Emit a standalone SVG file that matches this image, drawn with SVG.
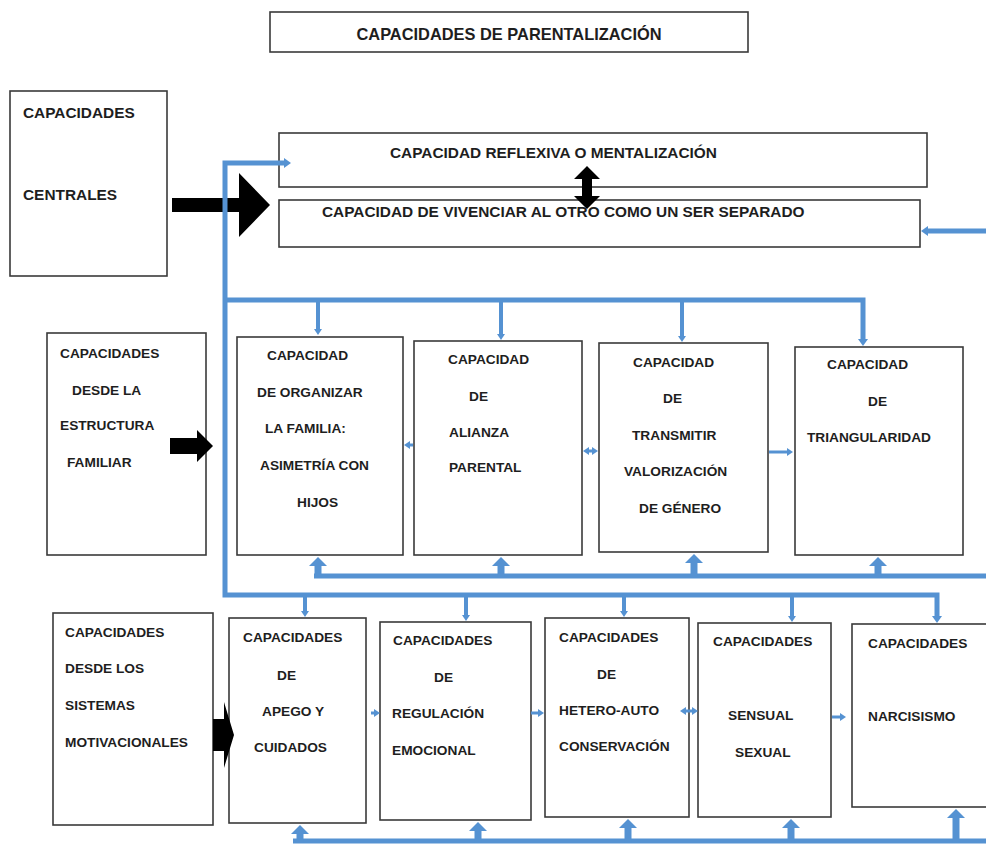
<svg xmlns="http://www.w3.org/2000/svg" width="986" height="845" viewBox="0 0 986 845">
<style>
.box{fill:#fff;stroke:#3a3a3a;stroke-width:1.6}
.t{font-family:"Liberation Sans",Arial,sans-serif;font-weight:bold;font-size:13.7px;fill:#1e1e1e}
.h{font-size:15.4px}
.ttl{font-size:16.4px}
.bus{fill:none;stroke:#5592d2;stroke-width:5;stroke-linejoin:miter}
.br{fill:none;stroke:#5592d2;stroke-width:4}
.up{fill:none;stroke:#5592d2;stroke-width:7}
.sm{fill:none;stroke:#5592d2;stroke-width:3}
.blk{fill:#000}
</style>
<defs>
<marker id="head" markerUnits="userSpaceOnUse" viewBox="0 -10 10 20" markerWidth="10" markerHeight="20" refX="0" refY="0" orient="auto"><path d="M0,-9 L9,0 L0,9 Z" fill="#5592d2"/></marker>
<marker id="ah" markerUnits="userSpaceOnUse" viewBox="0 -6 8 12" markerWidth="8" markerHeight="12" refX="0" refY="0" orient="auto-start-reverse"><path d="M0,-5 L7,0 L0,5 Z" fill="#5592d2"/></marker>
<marker id="as" markerUnits="userSpaceOnUse" viewBox="0 -5 6 10" markerWidth="6" markerHeight="10" refX="0" refY="0" orient="auto-start-reverse"><path d="M0,-4 L6,0 L0,4 Z" fill="#5592d2"/></marker>
</defs>

<g id="title"><rect class="box" x="270" y="12" width="478" height="40"/><text class="t ttl" x="509" y="40" text-anchor="middle">CAPACIDADES DE PARENTALIZACIÓN</text></g>

<g id="centrales"><rect class="box" x="10" y="91" width="157" height="185"/><text class="t h" x="23" y="118">CAPACIDADES</text><text class="t h" x="23" y="200">CENTRALES</text></g>

<g id="reflexiva"><rect class="box" x="279" y="133" width="648" height="54"/><text class="t h" x="390" y="158">CAPACIDAD REFLEXIVA O MENTALIZACIÓN</text></g>

<g id="vivenciar"><rect class="box" x="279" y="200" width="641" height="47"/><text class="t h" x="322" y="217">CAPACIDAD DE VIVENCIAR AL OTRO COMO UN SER SEPARADO</text></g>

<g id="estructura"><rect class="box" x="47" y="333" width="159" height="222"/><text class="t" x="60" y="358">CAPACIDADES</text><text class="t" x="72" y="395">DESDE LA</text><text class="t" x="60" y="430">ESTRUCTURA</text><text class="t" x="67" y="467">FAMILIAR</text></g>

<g id="organizar"><rect class="box" x="237" y="337" width="166" height="218"/><text class="t" x="267" y="360">CAPACIDAD</text><text class="t" x="257" y="397">DE ORGANIZAR</text><text class="t" x="265" y="433">LA FAMILIA:</text><text class="t" x="260" y="470">ASIMETRÍA CON</text><text class="t" x="297" y="507">HIJOS</text></g>

<g id="alianza"><rect class="box" x="414" y="341" width="168" height="214"/><text class="t" x="448" y="364">CAPACIDAD</text><text class="t" x="469" y="401">DE</text><text class="t" x="449" y="437">ALIANZA</text><text class="t" x="449" y="472">PARENTAL</text></g>

<g id="transmitir"><rect class="box" x="599" y="343" width="169" height="209"/><text class="t" x="633" y="367">CAPACIDAD</text><text class="t" x="663" y="403">DE</text><text class="t" x="632" y="440">TRANSMITIR</text><text class="t" x="624" y="476">VALORIZACIÓN</text><text class="t" x="639" y="513">DE GÉNERO</text></g>

<g id="triangularidad"><rect class="box" x="795" y="347" width="168" height="208"/><text class="t" x="827" y="369">CAPACIDAD</text><text class="t" x="868" y="406">DE</text><text class="t" x="807" y="442">TRIANGULARIDAD</text></g>

<g id="motivacionales"><rect class="box" x="53" y="613" width="160" height="212"/><text class="t" x="65" y="637">CAPACIDADES</text><text class="t" x="65" y="673">DESDE LOS</text><text class="t" x="65" y="710">SISTEMAS</text><text class="t" x="65" y="747">MOTIVACIONALES</text></g>

<g id="apego"><rect class="box" x="229" y="618" width="137" height="205"/><text class="t" x="243" y="642">CAPACIDADES</text><text class="t" x="277" y="680">DE</text><text class="t" x="262" y="716">APEGO Y</text><text class="t" x="254" y="752">CUIDADOS</text></g>

<g id="regulacion"><rect class="box" x="380" y="622" width="151" height="198"/><text class="t" x="393" y="645">CAPACIDADES</text><text class="t" x="434" y="682">DE</text><text class="t" x="392" y="718">REGULACIÓN</text><text class="t" x="392" y="755">EMOCIONAL</text></g>

<g id="conservacion"><rect class="box" x="545" y="618" width="144" height="199"/><text class="t" x="559" y="642">CAPACIDADES</text><text class="t" x="597" y="679">DE</text><text class="t" x="559" y="715">HETERO-AUTO</text><text class="t" x="559" y="751">CONSERVACIÓN</text></g>

<g id="sensual"><rect class="box" x="698" y="623" width="133" height="194"/><text class="t" x="713" y="646">CAPACIDADES</text><text class="t" x="728" y="720">SENSUAL</text><text class="t" x="735" y="757">SEXUAL</text></g>

<g id="narcisismo"><rect class="box" x="852" y="624" width="140" height="183"/><text class="t" x="868" y="648">CAPACIDADES</text><text class="t" x="868" y="721">NARCISISMO</text></g>

<g id="connectors">
<!-- black arrows -->
<path class="blk" d="M172,198 H239 V173 L270,205 L239,237 V212 H172 Z"/>
<path class="blk" d="M170,438 H197 V430 L213,446 L197,462 V454 H170 Z"/>
<path class="blk" d="M213,719 H224 V702 L234,735 L224,768 V751 H213 Z"/>
<path class="blk" d="M587,166 L600,179 H592 V196 H600 L587,209 L574,196 H582 V179 H574 Z"/>
<!-- main blue loop -->
<polyline class="bus" marker-start="url(#ah)" marker-end="url(#ah)" points="284,163 225,163 225,595 937,595 937,616"/>
<line class="bus" x1="986" y1="231" x2="928" y2="231" marker-end="url(#ah)"/>
<!-- row 2 top bus -->
<polyline class="bus" marker-end="url(#ah)" points="225,300 863,300 863,339"/>
<line class="br" x1="318" y1="300" x2="318" y2="329" marker-end="url(#as)"/>
<line class="br" x1="501" y1="300" x2="501" y2="334" marker-end="url(#as)"/>
<line class="br" x1="682" y1="300" x2="682" y2="336" marker-end="url(#as)"/>
<!-- row 3 branches -->
<line class="br" x1="305" y1="595" x2="305" y2="611" marker-end="url(#as)"/>
<line class="br" x1="466" y1="595" x2="466" y2="615" marker-end="url(#as)"/>
<line class="br" x1="624" y1="595" x2="624" y2="611" marker-end="url(#as)"/>
<line class="br" x1="792" y1="595" x2="792" y2="616" marker-end="url(#as)"/>
<!-- row 2 bottom bus -->
<line class="bus" x1="314" y1="576" x2="986" y2="576"/>
<line class="up" x1="318" y1="578" x2="318" y2="566" marker-end="url(#head)"/>
<line class="up" x1="501" y1="578" x2="501" y2="566" marker-end="url(#head)"/>
<line class="up" x1="694" y1="578" x2="694" y2="563" marker-end="url(#head)"/>
<line class="up" x1="878" y1="578" x2="878" y2="566" marker-end="url(#head)"/>
<!-- row 3 bottom bus -->
<line class="bus" x1="293" y1="841" x2="986" y2="841"/>
<line class="up" x1="300" y1="843" x2="300" y2="834" marker-end="url(#head)"/>
<line class="up" x1="478" y1="843" x2="478" y2="831" marker-end="url(#head)"/>
<line class="up" x1="628" y1="843" x2="628" y2="828" marker-end="url(#head)"/>
<line class="up" x1="791" y1="843" x2="791" y2="828" marker-end="url(#head)"/>
<line class="up" x1="956" y1="843" x2="956" y2="818" marker-end="url(#head)"/>
<!-- small links between boxes, row 2 -->
<line class="sm" x1="413" y1="445" x2="410" y2="445" marker-end="url(#as)"/>
<line class="sm" x1="589" y1="451" x2="592" y2="451" marker-start="url(#as)" marker-end="url(#as)"/>
<line class="sm" x1="769" y1="452" x2="787" y2="452" marker-end="url(#as)"/>
<!-- small links between boxes, row 3 -->
<line class="sm" x1="371" y1="713" x2="374" y2="713" marker-end="url(#as)"/>
<line class="sm" x1="531" y1="713" x2="538" y2="713" marker-end="url(#as)"/>
<line class="sm" x1="686" y1="711" x2="692" y2="711" marker-start="url(#as)" marker-end="url(#as)"/>
<line class="sm" x1="832" y1="717" x2="840" y2="717" marker-end="url(#as)"/>
</g>
</svg>
